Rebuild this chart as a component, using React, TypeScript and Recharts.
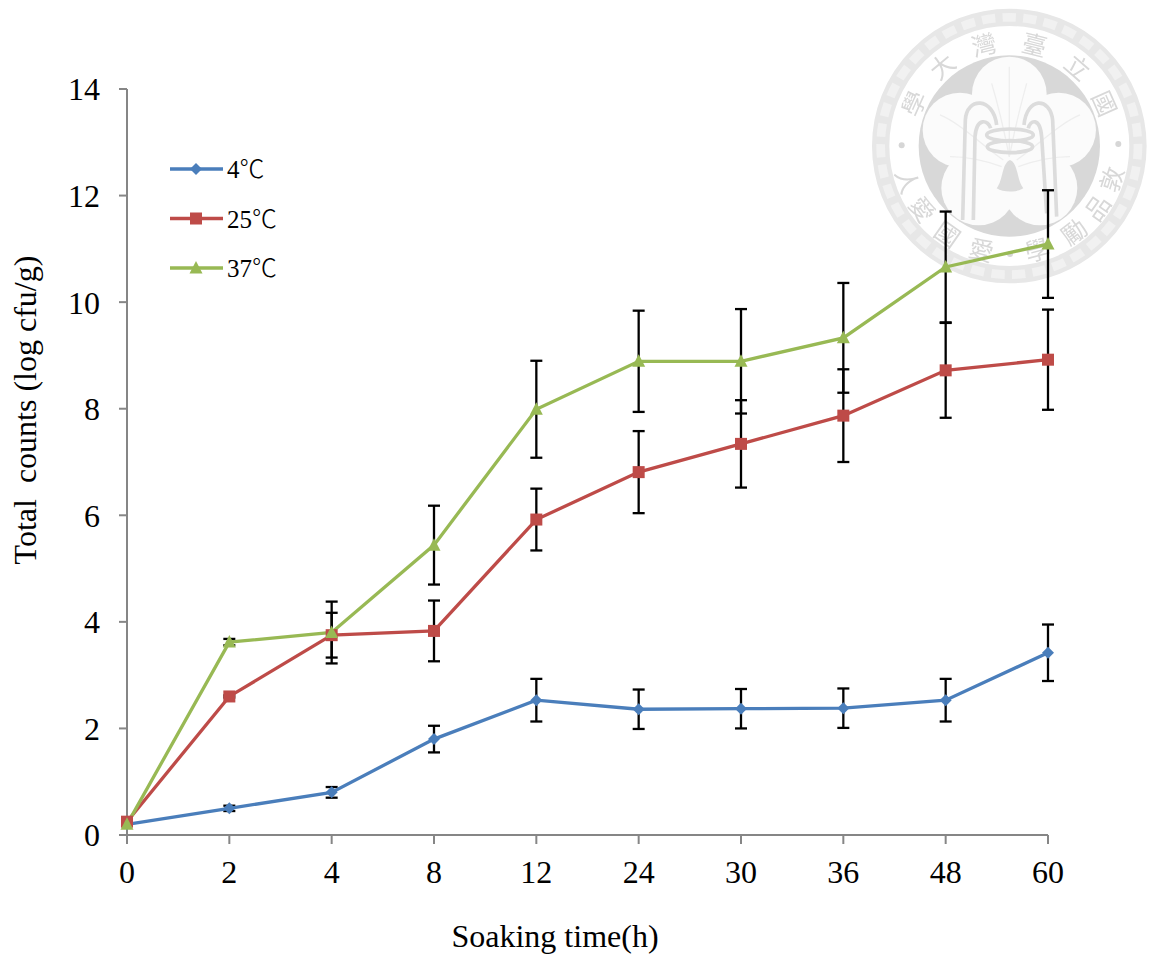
import React from "react";
import { LineChart, Line, XAxis, YAxis, ErrorBar, Legend, Label } from "recharts";

const FONT = '"Liberation Serif", "Times New Roman", serif';
const CJK_FONT = '"Noto Sans CJK TC", serif';

const categories = ["0", "2", "4", "8", "12", "24", "30", "36", "48", "60"];
const yTicks = [0, 2, 4, 6, 8, 10, 12, 14];

const counts4 = [0.2, 0.5, 0.8, 1.8, 2.53, 2.36, 2.37, 2.38, 2.53, 3.42];
const counts25 = [0.25, 2.6, 3.75, 3.83, 5.92, 6.81, 7.34, 7.87, 8.72, 8.92];
const counts37 = [0.2, 3.62, 3.8, 5.44, 7.99, 8.89, 8.89, 9.33, 10.66, 11.09];

const err4 = [0, 0.05, 0.1, 0.25, 0.4, 0.37, 0.37, 0.37, 0.4, 0.53];
const err25 = [0, 0.02, 0.42, 0.57, 0.58, 0.77, 0.82, 0.87, 0.89, 0.94];
const err37 = [0, 0.06, 0.58, 0.74, 0.91, 0.95, 0.98, 1.03, 1.04, 1.01];

const chartData = categories.map((t, i) => ({
  t,
  c4: counts4[i],
  c25: counts25[i],
  c37: counts37[i],
  e4: err4[i],
  e25: err25[i],
  e37: err37[i],
}));

const BLUE = "#4a7ebb";
const RED = "#be4b48";
const GREEN = "#98b954";
const AXIS = "#868686";

type Shape = "diamond" | "square" | "triangle";

function Marker({ cx, cy, shape, color }: { cx: number; cy: number; shape: Shape; color: string }) {
  if (shape === "diamond") {
    return <path d={`M${cx} ${cy - 6}L${cx + 6} ${cy}L${cx} ${cy + 6}L${cx - 6} ${cy}Z`} fill={color} />;
  }
  if (shape === "square") {
    return <rect x={cx - 6} y={cy - 6} width={12} height={12} fill={color} />;
  }
  return <path d={`M${cx} ${cy - 7}L${cx + 6.5} ${cy + 5.5}L${cx - 6.5} ${cy + 5.5}Z`} fill={color} />;
}

const dotFor = (shape: Shape, color: string) => (props: any) =>
  <Marker key={props.index} cx={props.cx} cy={props.cy} shape={shape} color={color} />;

const legendEntries: { name: string; color: string; shape: Shape }[] = [
  { name: "4", color: BLUE, shape: "diamond" },
  { name: "25", color: RED, shape: "square" },
  { name: "37", color: GREEN, shape: "triangle" },
];

function LegendContent() {
  return (
    <svg width={130} height={150} style={{ display: "block", overflow: "visible" }}>
      {legendEntries.map((e, i) => {
        const y = 25 + i * 49.5;
        return (
          <g key={e.name}>
            <line x1={0} x2={53} y1={y} y2={y} stroke={e.color} strokeWidth={3.3} />
            <Marker cx={26} cy={y} shape={e.shape} color={e.color} />
            <text x={57} y={y + 9} fontSize={25} fill="#000">
              <tspan fontFamily={FONT}>{e.name}</tspan>
              <tspan fontFamily={CJK_FONT} fontWeight={300}>℃</tspan>
            </text>
          </g>
        );
      })}
    </svg>
  );
}

const sealChars: [string, number][] = [
  ["國", 66], ["立", 41], ["臺", 14], ["灣", -14], ["大", -40], ["學", -66],
  ["敦", 108], ["品", 125], ["勵", 143], ["學", 165], ["愛", -165], ["國", -145], ["愛", -126], ["人", -109],
];

function Seal() {
  const cx = 448;
  const cy = 438;
  const ink = "#dcdcdc";
  return (
    <svg width={292} height={290} style={{ position: "absolute", left: 860, top: 0, filter: "blur(0.5px)" }}>
      <g transform="scale(0.3333)">
        <circle cx={cx} cy={cy} r={386} fill="none" stroke="#e7e7e7" strokeWidth={52} />
        <circle cx={cx} cy={cy} r={386} fill="none" stroke="#f1f1f1" strokeWidth={26} strokeDasharray="40 22" />
        <circle cx={cx} cy={cy} r={272} fill="#d8d8d8" />
        <g fill="#fbfbfb">
          <circle cx={cx} cy={cy} r={140} />
          <circle cx={cx} cy={cy - 156} r={112} />
          <circle cx={cx - 148} cy={cy - 48} r={112} />
          <circle cx={cx + 148} cy={cy - 48} r={112} />
          <circle cx={cx - 92} cy={cy + 126} r={112} />
          <circle cx={cx + 92} cy={cy + 126} r={112} />
        </g>
        <g fill="none" stroke="#eeeeee" strokeWidth={4}>
          <path d="M448 470 L448 200" />
          <path d="M448 470 C430 380 410 300 395 250" />
          <path d="M448 470 C466 380 486 300 500 250" />
          <path d="M430 480 C360 430 300 370 240 345" />
          <path d="M470 480 C540 430 600 370 660 345" />
          <path d="M425 500 C370 480 320 470 270 470" />
          <path d="M475 500 C530 480 580 470 630 470" />
        </g>
        <g fill="none" stroke={ink} strokeWidth={11}>
          <path d="M308 660 L316 360 C320 290 400 290 410 375" />
          <path d="M340 660 L345 410 C350 350 385 360 392 385" />
          <path d="M590 650 L578 360 C570 290 500 290 492 375" />
          <path d="M560 640 L545 410 C540 350 510 360 505 385" />
          <ellipse cx={450} cy={405} rx={70} ry={18} />
          <ellipse cx={450} cy={440} rx={68} ry={18} />
        </g>
        <path d="M450 480 C425 490 430 540 410 565 C430 578 470 578 490 565 C470 540 475 490 450 480Z" fill={ink} />
        {sealChars.map(([ch, a]) => {
          const rad = (a * Math.PI) / 180;
          const x = cx + 318 * Math.sin(rad);
          const y = cy - 318 * Math.cos(rad);
          const rot = Math.abs(a) > 90 ? a + 180 : a;
          return (
            <text
              key={`${ch}${a}`}
              x={x}
              y={y}
              fontFamily='"Noto Sans CJK TC"'
              fontSize={74}
              fill="#d8d8d8"
              textAnchor="middle"
              dominantBaseline="central"
              transform={`rotate(${rot} ${x} ${y})`}
            >
              {ch}
            </text>
          );
        })}
        <circle cx={125} cy={436} r={9} fill="#d6d6d6" />
        <circle cx={775} cy={432} r={9} fill="#d6d6d6" />
        <circle cx={450} cy={762} r={9} fill="#d6d6d6" />
      </g>
    </svg>
  );
}

const tickStyle = { fontFamily: FONT, fontSize: 32, fill: "#000" };

const XTitle = () => (
  <text x={555} y={947} textAnchor="middle" fontFamily={FONT} fontSize={32} fill="#000">
    Soaking time(h)
  </text>
);

const YTitle = () => (
  <text x={36} y={410} transform="rotate(-90 36 410)" textAnchor="middle" fontFamily={FONT} fontSize={32} fill="#000">
    {"Total\u00a0\u00a0counts (log cfu/g)"}
  </text>
);

export default function App() {
  return (
    <div style={{ position: "absolute", left: 0, top: 0, width: 1152, height: 958, background: "#fff", overflow: "hidden" }}>
      <Seal />
      <div style={{ position: "absolute", left: 0, top: 0 }}>
        <LineChart
          width={1152}
          height={958}
          data={chartData}
          margin={{ top: 89, right: 104, bottom: 0, left: 0 }}
          style={{ background: "transparent" }}
        >
          <XAxis
            dataKey="t"
            scale="point"
            interval={0}
            height={123}
            tick={tickStyle}
            tickSize={9}
            tickMargin={16}
            stroke={AXIS}
            strokeWidth={2}
            tickLine={{ stroke: AXIS, strokeWidth: 2 }}
          >
            <Label content={<XTitle />} />
          </XAxis>
          <YAxis
            domain={[0, 14]}
            ticks={yTicks}
            interval={0}
            width={127}
            tick={tickStyle}
            tickSize={8}
            tickMargin={19}
            stroke={AXIS}
            strokeWidth={2}
            tickLine={{ stroke: AXIS, strokeWidth: 2 }}
          >
            <Label content={<YTitle />} />
          </YAxis>
          <Legend
            layout="vertical"
            align="center"
            verticalAlign="middle"
            content={<LegendContent />}
            wrapperStyle={{ left: 170, top: 144, width: 130, height: 150 }}
          />
          <Line dataKey="c4" name="4℃" stroke={BLUE} strokeWidth={3.3} isAnimationActive={false} dot={dotFor("diamond", BLUE)}>
            <ErrorBar dataKey="e4" direction="y" width={6} stroke="#000" strokeWidth={2.3} isAnimationActive={false} />
          </Line>
          <Line dataKey="c25" name="25℃" stroke={RED} strokeWidth={3.3} isAnimationActive={false} dot={dotFor("square", RED)}>
            <ErrorBar dataKey="e25" direction="y" width={6} stroke="#000" strokeWidth={2.3} isAnimationActive={false} />
          </Line>
          <Line dataKey="c37" name="37℃" stroke={GREEN} strokeWidth={3.3} isAnimationActive={false} dot={dotFor("triangle", GREEN)}>
            <ErrorBar dataKey="e37" direction="y" width={6} stroke="#000" strokeWidth={2.3} isAnimationActive={false} />
          </Line>
        </LineChart>
      </div>
    </div>
  );
}
